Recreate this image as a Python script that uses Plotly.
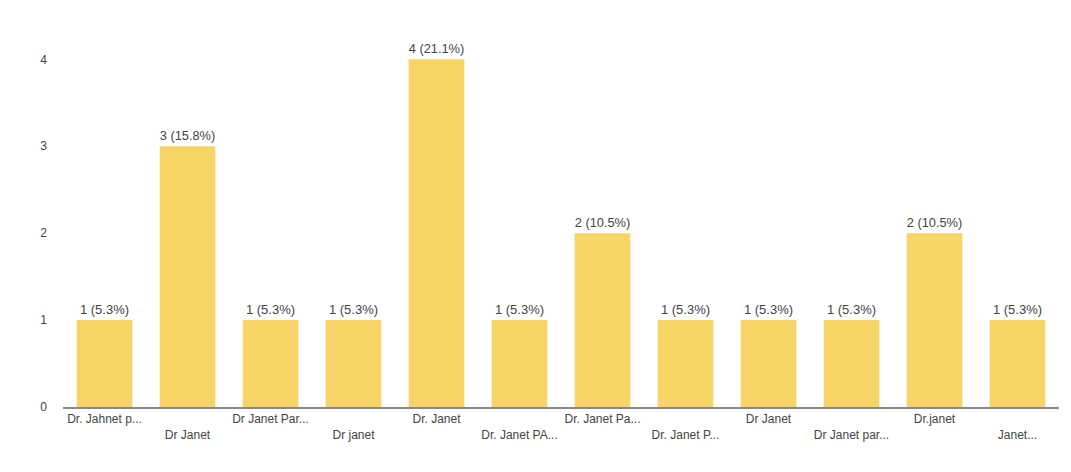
import plotly.graph_objects as go

categories = ["Dr. Jahnet p...", "Dr Janet", "Dr Janet Par...", "Dr janet",
              "Dr. Janet", "Dr. Janet PA...", "Dr. Janet Pa...", "Dr. Janet P...",
              "Dr Janet", "Dr Janet par...", "Dr.janet", "Janet..."]
counts = [1, 3, 1, 1, 4, 1, 2, 1, 1, 1, 2, 1]
y_ticks = [0, 1, 2, 3, 4]

total = sum(counts)
labels = [f"{c} ({c / total * 100:.1f}%)" for c in counts]
x_ids = list(range(len(categories)))
tick_text = [t if i % 2 == 0 else "<br>" + t for i, t in enumerate(categories)]

fig = go.Figure(go.Bar(
    x=x_ids, y=counts, text=labels, textposition="outside",
    textfont=dict(family="Liberation Sans, Arial", size=13, color="#444444"),
    marker=dict(color="#F6D466", line=dict(width=0)),
    cliponaxis=False,
))
fig.update_layout(
    width=1071, height=472,
    margin=dict(l=55, r=20, t=47, b=73),
    paper_bgcolor="white", plot_bgcolor="white",
    bargap=0.33, showlegend=False,
    font=dict(family="Liberation Sans, Arial", size=12, color="#444444"),
)
fig.update_xaxes(tickmode="array", tickvals=x_ids, ticktext=tick_text,
                 showline=True, linecolor="#888888", linewidth=1.5,
                 showgrid=False, ticks="", range=[-0.5, 11.5])
fig.update_yaxes(tickmode="array", tickvals=y_ticks, range=[0, 4.05],
                 showgrid=False, zeroline=False, showline=False, ticks="",
                 ticklabelstandoff=15)
fig.write_html("out.html")
